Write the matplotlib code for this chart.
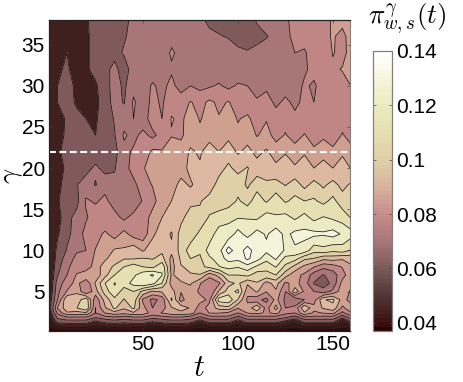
import numpy as np
import matplotlib
matplotlib.use('Agg')
import matplotlib.pyplot as plt
from matplotlib.colors import LinearSegmentedColormap, Normalize
from matplotlib.cm import ScalarMappable

plt.rcParams['font.family'] = ['Liberation Sans', 'DejaVu Sans']
plt.rcParams['mathtext.fontset'] = 'cm'

t_vals = [1, 5, 10, 15, 20, 25, 30, 35, 40, 45, 50, 55, 60, 65, 70, 75, 80, 85, 90, 95, 100, 105, 110, 115, 120, 125, 130, 135, 140, 145, 150, 155, 160]
gamma_vals = [38, 36, 34, 32, 30, 28, 26, 24, 22, 20, 18, 16, 14, 12, 10, 9, 8, 7, 6, 5, 4, 3, 2.4, 2, 1.5, 1, 0.6, 0.2]

# values in units of 0.001
g38 = [50, 50, 50, 51, 54, 58, 59, 60, 61, 64, 63, 66, 65, 67, 65, 66, 64, 61, 60, 59, 59, 60, 63, 66, 68, 69, 72, 72, 74, 76, 78, 79, 79]
g36 = [50, 50, 52, 52, 54, 57, 60, 61, 62, 64, 66, 67, 66, 68, 66, 67, 64, 64, 63, 62, 60, 60, 61, 62, 65, 69, 71, 73, 70, 76, 78, 76, 80]
g34 = [50, 51, 55, 53, 54, 57, 60, 61, 63, 64, 70, 67, 66, 71, 68, 69, 66, 67, 65, 66, 64, 63, 64, 66, 65, 68, 70, 69, 74, 71, 78, 75, 81]
g32 = [51, 54, 56, 52, 54, 57, 61, 64, 60, 65, 68, 66, 67, 69, 66, 69, 68, 68, 65, 66, 65, 64, 63, 65, 68, 66, 67, 69, 72, 73, 76, 78, 79]
g30 = [51, 55, 57, 54, 53, 54, 59, 66, 61, 68, 66, 71, 68, 72, 67, 70, 68, 69, 71, 68, 71, 70, 67, 69, 66, 68, 67, 71, 69, 73, 75, 74, 78]
g28 = [50, 55, 58, 54, 53, 53, 59, 65, 62, 71, 66, 72, 69, 75, 74, 78, 75, 79, 76, 78, 74, 73, 71, 72, 69, 71, 69, 71, 70, 72, 73, 76, 76]
g26 = [50, 52, 56, 57, 55, 54, 59, 63, 67, 70, 66, 74, 70, 78, 76, 81, 77, 80, 78, 81, 77, 79, 74, 77, 72, 75, 71, 73, 71, 73, 72, 75, 73]
g24 = [50, 53, 56, 58, 56, 55, 60, 62, 71, 68, 72, 68, 73, 77, 76, 82, 79, 82, 80, 83, 79, 82, 77, 80, 75, 78, 74, 78, 74, 76, 74, 78, 75]
g22 = [50, 54, 57, 60, 62, 58, 62, 60, 68, 71, 73, 79, 78, 82, 81, 86, 84, 89, 85, 89, 84, 87, 83, 86, 81, 84, 81, 84, 79, 82, 79, 83, 79]
g20 = [50, 53, 56, 62, 60, 64, 60, 62, 67, 73, 77, 80, 79, 84, 82, 87, 86, 92, 90, 94, 90, 93, 88, 91, 87, 91, 86, 89, 85, 88, 85, 90, 84]
g18 = [50, 53, 58, 62, 66, 62, 67, 64, 66, 68, 74, 78, 83, 82, 87, 84, 88, 89, 95, 93, 97, 91, 97, 93, 95, 92, 96, 90, 95, 91, 95, 90, 94]
g16 = [50, 54, 60, 60, 71, 69, 72, 66, 67, 63, 71, 74, 83, 85, 88, 90, 92, 95, 97, 96, 101, 97, 104, 99, 105, 99, 102, 100, 101, 98, 102, 96, 95]
g14 = [50, 52, 60, 65, 69, 74, 71, 73, 68, 73, 72, 81, 85, 92, 90, 97, 94, 101, 102, 106, 107, 107, 106, 111, 108, 110, 106, 110, 105, 108, 106, 104, 99]
g12 = [49, 54, 61, 65, 73, 74, 79, 74, 80, 74, 73, 83, 90, 84, 96, 95, 102, 103, 112, 110, 118, 112, 118, 114, 119, 113, 117, 117, 117, 116, 118, 114, 110]
g10 = [48, 57, 63, 69, 70, 78, 79, 86, 86, 90, 84, 90, 91, 87, 95, 104, 101, 111, 112, 126, 118, 126, 118, 117, 120, 114, 114, 112, 103, 105, 102, 104, 99]
g9 = [48, 58, 66, 72, 73, 79, 84, 88, 92, 92, 93, 92, 95, 83, 94, 100, 99, 106, 111, 118, 117, 124, 118, 110, 116, 105, 103, 94, 92, 87, 88, 86, 88]
g8 = [48, 60, 68, 75, 72, 82, 88, 94, 100, 104, 100, 98, 106, 82, 92, 94, 98, 102, 107, 110, 108, 112, 106, 102, 108, 98, 90, 83, 78, 72, 74, 78, 84]
g7 = [48, 62, 70, 78, 84, 80, 90, 100, 107, 106, 112, 116, 108, 84, 88, 92, 92, 80, 88, 100, 100, 102, 96, 98, 100, 88, 80, 76, 66, 62, 66, 75, 82]
g6 = [49, 66, 74, 80, 72, 86, 100, 108, 104, 110, 115, 110, 100, 82, 84, 86, 78, 72, 76, 90, 94, 86, 92, 82, 88, 76, 80, 74, 62, 58, 65, 80, 78]
g5 = [49, 68, 78, 84, 70, 82, 96, 106, 96, 100, 90, 84, 86, 88, 78, 82, 76, 70, 86, 96, 102, 80, 86, 78, 84, 70, 90, 76, 70, 66, 72, 82, 76]
g4 = [52, 70, 92, 88, 98, 72, 88, 98, 92, 98, 76, 68, 72, 94, 74, 84, 80, 76, 104, 106, 92, 76, 72, 68, 80, 68, 64, 70, 74, 92, 94, 82, 72]
g3 = [54, 78, 90, 92, 100, 70, 84, 94, 86, 94, 80, 70, 74, 84, 90, 84, 74, 80, 88, 90, 78, 80, 92, 74, 88, 70, 72, 92, 80, 86, 90, 76, 82]
g2_4 = [50, 72, 84, 82, 84, 70, 78, 82, 80, 84, 82, 74, 78, 82, 82, 82, 70, 78, 78, 76, 70, 78, 80, 76, 80, 72, 70, 84, 76, 78, 80, 68, 78]
g2 = [48, 66, 72, 72, 72, 66, 70, 72, 70, 72, 72, 68, 70, 72, 72, 70, 64, 70, 70, 70, 62, 70, 70, 70, 70, 66, 62, 72, 70, 70, 70, 60, 70]
g1_5 = [46, 60, 62, 62, 62, 56, 60, 62, 60, 62, 62, 58, 60, 62, 62, 60, 54, 60, 60, 60, 54, 60, 60, 60, 60, 56, 52, 60, 60, 60, 60, 50, 60]
g1 = [44, 52, 53, 53, 53, 49, 52, 53, 52, 53, 53, 50, 52, 53, 53, 52, 47, 52, 52, 52, 47, 52, 52, 52, 52, 49, 46, 52, 52, 52, 52, 45, 52]
g0_6 = [43, 46, 47, 47, 47, 45, 46, 47, 46, 47, 47, 45, 46, 47, 47, 46, 44, 46, 46, 46, 44, 46, 46, 46, 46, 45, 44, 46, 46, 46, 46, 44, 46]
g0_2 = [40, 40, 41, 41, 41, 40, 40, 41, 40, 41, 41, 40, 40, 41, 41, 40, 40, 40, 40, 40, 40, 40, 40, 40, 40, 40, 40, 40, 40, 40, 40, 40, 40]

rows = [g38, g36, g34, g32, g30, g28, g26, g24, g22, g20, g18, g16, g14, g12, g10, g9, g8, g7, g6, g5, g4, g3, g2_4, g2, g1_5, g1, g0_6, g0_2]
Z = np.array(rows) / 1000.0

levels = [0.038, 0.043, 0.0475, 0.055, 0.0625, 0.07, 0.0775, 0.085, 0.0925, 0.1, 0.1075, 0.115, 0.1225, 0.13]
band_colors = ['#2e0606', '#3a1616', '#40201f', '#805a5a', '#a87676', '#c08686', '#cfa090', '#dcb9a0',
               '#e0d0a8', '#e6dfb2', '#ecebc4', '#f4f4da', '#fbfbf0']

bar_vals = [0.037, 0.039, 0.05, 0.06, 0.07, 0.08, 0.09, 0.1, 0.11, 0.12, 0.13, 0.14]
bar_cols = ['#2a0000', '#3a1010', '#553636', '#7d5a5a', '#a87878', '#c88c8c', '#d8b49c', '#dfcfa8', '#e6dfb0', '#ebebc0', '#f5f5dc', '#ffffff']

W, H = 463.0, 382.0
fig = plt.figure(figsize=(4.63, 3.82), dpi=100)

def px_axes(x0, y0, x1, y1):
    return fig.add_axes([x0 / W, 1 - y1 / H, (x1 - x0) / W, (y1 - y0) / H])

ax = px_axes(49, 20, 350, 331)
ax.contourf(t_vals, gamma_vals, Z, levels=levels, colors=band_colors)
ax.contour(t_vals, gamma_vals, Z, levels=levels[1:], colors='#1a1414', linewidths=0.55)
ax.axhline(22, color='white', ls='--', lw=1.5, dashes=(3.3, 1.7))
ax.set_xlim(0.5, 159)
ax.set_ylim(0.2, 38)
ax.set_xticks([50, 100, 150])
ax.set_yticks([5, 10, 15, 20, 25, 30, 35])
ax.tick_params(labelsize=15, direction='in', length=2, width=0.5, top=True, right=True, pad=3, color='#444444')
ax.spines['right'].set_color('#808080')
for s in ['left', 'top', 'bottom']:
    ax.spines[s].set_linewidth(0.9)
    ax.spines[s].set_color('#222222')

fig.text(199 / W, 1 - 368 / H, r'$t$', fontsize=22, ha='center', va='center')
fig.text(13 / W, 1 - 176 / H, r'$\gamma$', fontsize=19, ha='center', va='center', rotation=90)
fig.text(407 / W, 1 - 19 / H, r'$\pi^{\gamma}_{w,s}(t)$', fontsize=19.5, ha='center', va='center')

span = bar_vals[-1] - bar_vals[0]
stops = [(v - bar_vals[0]) / span for v in bar_vals]
stops[-1] = 1.0
cmap = LinearSegmentedColormap.from_list('pinkish', list(zip(stops, bar_cols)), N=64)
cax = px_axes(373, 51, 392, 331)
cb = fig.colorbar(ScalarMappable(Normalize(0.037, 0.14), cmap), cax=cax, ticks=[0.04, 0.06, 0.08, 0.1, 0.12, 0.14])
cb.ax.set_yticklabels(['0.04', '0.06', '0.08', '0.1', '0.12', '0.14'])
cb.ax.tick_params(labelsize=15, direction='in', length=2, width=0.5, left=True, right=True, pad=3, color='#444444')
cb.outline.set_edgecolor('#808080')
cb.outline.set_linewidth(0.9)

fig.savefig('out.png', dpi=100)
